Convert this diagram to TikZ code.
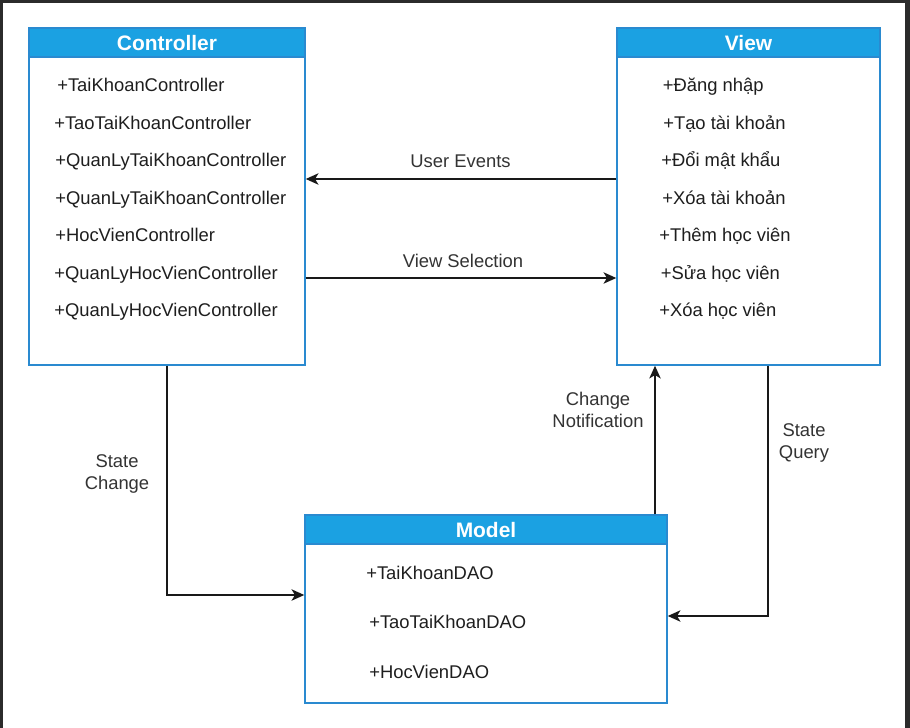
\documentclass[tikz,border=0pt]{standalone}
\usepackage{fontspec}
\setmainfont{Liberation Sans}
\usetikzlibrary{fit,arrows.meta}
\definecolor{hdr}{HTML}{1BA1E2}
\definecolor{bdr}{HTML}{2A8AD0}
\definecolor{frm}{HTML}{2B2B2B}
\definecolor{txt}{HTML}{1E1E1E}
\definecolor{lbltxt}{HTML}{333333}
\begin{document}
\begin{tikzpicture}[x=0.75pt,y=-0.75pt,
  box/.style={draw=bdr,line width=1.1pt,fill=white,inner sep=0pt},
  hdrbox/.style={draw=bdr,line width=1.1pt,fill=hdr,inner sep=0pt,text=white,font=\fontsize{15.7}{18}\selectfont\bfseries},
  hdrtxt/.style={text=white,font=\fontsize{15.7}{18}\selectfont\bfseries,anchor=base,inner sep=0pt},
  item/.style={anchor=base west,inner sep=0pt,text=txt,font=\fontsize{13.8}{16}\selectfont},
  lbl/.style={inner sep=0pt,text=lbltxt,font=\fontsize{13.8}{16.5}\selectfont,align=center},
  arr/.style={draw=black!90,line width=1.1pt,-{Stealth[length=9.5pt,width=8.5pt,inset=2.5pt]}}
]
% frame
\fill[frm] (0,0) rectangle (910,728);
\fill[white] (3,3) rectangle (905,728);
\useasboundingbox (0,0) rectangle (910,728);

% boxes
\node[box,fit={(29,28) (305,365)}] (ctrl) {};
\node[hdrbox,fit={(29,28) (305,57)}] (ctrlh) {};
\node[hdrtxt] (ctrlt) at (167,50) {Controller};

\node[box,fit={(617,28) (880,365)}] (view) {};
\node[hdrbox,fit={(617,28) (880,57)}] (viewh) {};
\node[hdrtxt] (viewt) at (748.5,50) {View};

\node[box,fit={(305,515) (667,703)}] (model) {};
\node[hdrbox,fit={(305,515) (667,544)}] (modelh) {};
\node[hdrtxt] (modelt) at (486,537) {Model};

% controller items
\node[item] (c1) at (57,91.7) {+TaiKhoanController};
\node[item] (c2) at (54,129) {+TaoTaiKhoanController};
\node[item] (c3) at (55,166.7) {+QuanLyTaiKhoanController};
\node[item] (c4) at (55,204) {+QuanLyTaiKhoanController};
\node[item] (c5) at (55,241.7) {+HocVienController};
\node[item] (c6) at (54,279) {+QuanLyHocVienController};
\node[item] (c7) at (54,316) {+QuanLyHocVienController};

% view items
\node[item] (v1) at (662.5,91.7) {+Đăng nhập};
\node[item] (v2) at (663,129) {+Tạo tài khoản};
\node[item] (v3) at (661,166.7) {+Đổi mật khẩu};
\node[item] (v4) at (662,204) {+Xóa tài khoản};
\node[item] (v5) at (659,241.7) {+Thêm học viên};
\node[item] (v6) at (660.5,279) {+Sửa học viên};
\node[item] (v7) at (659,316) {+Xóa học viên};

% model items
\node[item] (m1) at (366,579) {+TaiKhoanDAO};
\node[item] (m2) at (369,628) {+TaoTaiKhoanDAO};
\node[item] (m3) at (369,678) {+HocVienDAO};

% helper coordinates
\coordinate (yUE) at (0,179);
\coordinate (yVS) at (0,278);
\coordinate (ySC) at (0,595);
\coordinate (ySQ) at (0,616);
\coordinate (xCN) at (655,0);
\coordinate (xSQ) at (768,0);

% connectors
\draw[arr] (view.west |- yUE) -- (ctrl.east |- yUE);
\draw[arr] (ctrl.east |- yVS) -- (view.west |- yVS);
\draw[arr] (ctrl.south) |- (model.west |- ySC);
\draw[arr] (model.north -| xCN) -- (view.south -| xCN);
\draw[arr] (view.south -| xSQ) |- (model.east |- ySQ);

% labels
\node[lbl,anchor=base] (lUE) at (460.5,167) {User Events};
\node[lbl,anchor=base] (lVS) at (463,267) {View Selection};
\node[lbl] (lSC) at (117,474) {State\\Change};
\node[lbl] (lCN) at (598,410) {Change\\Notification};
\node[lbl] (lSQ) at (804,442.5) {State\\Query};
\end{tikzpicture}
\end{document}
